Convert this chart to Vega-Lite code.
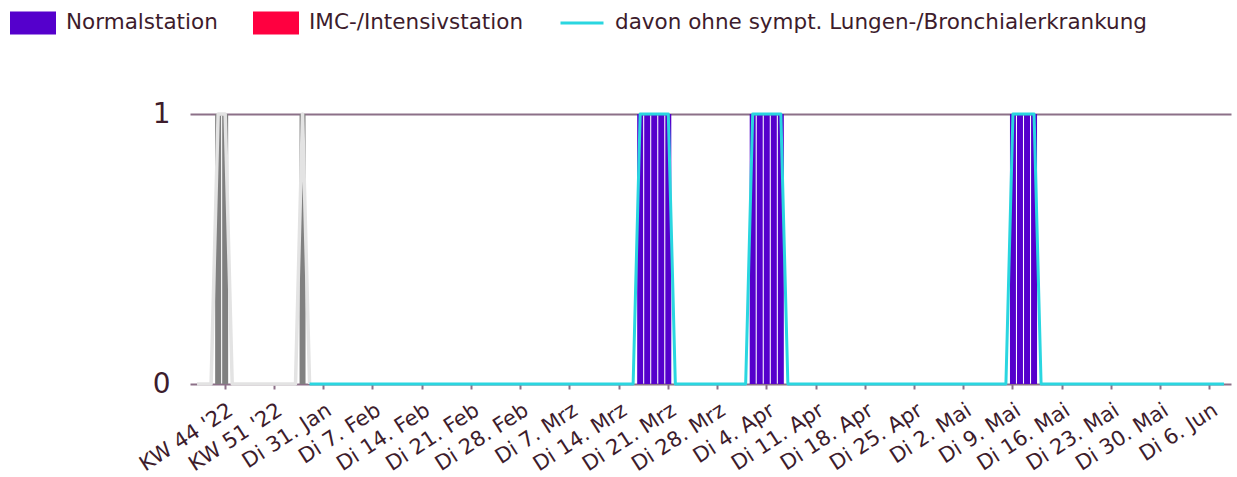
{
  "$schema": "https://vega.github.io/schema/vega-lite/v6.json",
  "autosize": {"type": "none"},
  "padding": {"left": 190, "top": 114, "right": 6, "bottom": 93},
  "width": 1041,
  "height": 270,
  "background": "white",
  "config": {
    "view": {"stroke": null},
    "font": "DejaVu Sans",
    "axis": {"labelFont": "DejaVu Sans", "labelColor": "#3d1c2c", "title": null},
    "legend": {"labelFont": "DejaVu Sans"}
  },
  "data": {
    "values": [
      {"t": "KW 40 '22", "nh": 0, "oh": 0, "i": 0},
      {"t": "KW 41 '22", "nh": 0, "oh": 0, "i": 0},
      {"t": "KW 42 '22", "nh": 0, "oh": 0, "i": 0},
      {"t": "KW 43 '22", "nh": 1, "oh": 1, "i": 0},
      {"t": "KW 44 '22", "nh": 1, "oh": 1, "i": 0},
      {"t": "KW 45 '22", "nh": 0, "oh": 0, "i": 0},
      {"t": "KW 46 '22", "nh": 0, "oh": 0, "i": 0},
      {"t": "KW 47 '22", "nh": 0, "oh": 0, "i": 0},
      {"t": "KW 48 '22", "nh": 0, "oh": 0, "i": 0},
      {"t": "KW 49 '22", "nh": 0, "oh": 0, "i": 0},
      {"t": "KW 50 '22", "nh": 0, "oh": 0, "i": 0},
      {"t": "KW 51 '22", "nh": 0, "oh": 0, "i": 0},
      {"t": "KW 52 '22", "nh": 0, "oh": 0, "i": 0},
      {"t": "KW 1 '23", "nh": 0, "oh": 0, "i": 0},
      {"t": "KW 2 '23", "nh": 0, "oh": 0, "i": 0},
      {"t": "KW 3 '23", "nh": 1, "oh": 1, "i": 0},
      {"t": "KW 4 '23", "nh": 0, "oh": 0, "i": 0, "o": 0},
      {"t": "Mo 30. Jan", "n": 0, "i": 0, "o": 0},
      {"t": "Di 31. Jan", "n": 0, "i": 0, "o": 0},
      {"t": "Mi 1. Feb", "n": 0, "i": 0, "o": 0},
      {"t": "Do 2. Feb", "n": 0, "i": 0, "o": 0},
      {"t": "Fr 3. Feb", "n": 0, "i": 0, "o": 0},
      {"t": "Sa 4. Feb", "n": 0, "i": 0, "o": 0},
      {"t": "So 5. Feb", "n": 0, "i": 0, "o": 0},
      {"t": "Mo 6. Feb", "n": 0, "i": 0, "o": 0},
      {"t": "Di 7. Feb", "n": 0, "i": 0, "o": 0},
      {"t": "Mi 8. Feb", "n": 0, "i": 0, "o": 0},
      {"t": "Do 9. Feb", "n": 0, "i": 0, "o": 0},
      {"t": "Fr 10. Feb", "n": 0, "i": 0, "o": 0},
      {"t": "Sa 11. Feb", "n": 0, "i": 0, "o": 0},
      {"t": "So 12. Feb", "n": 0, "i": 0, "o": 0},
      {"t": "Mo 13. Feb", "n": 0, "i": 0, "o": 0},
      {"t": "Di 14. Feb", "n": 0, "i": 0, "o": 0},
      {"t": "Mi 15. Feb", "n": 0, "i": 0, "o": 0},
      {"t": "Do 16. Feb", "n": 0, "i": 0, "o": 0},
      {"t": "Fr 17. Feb", "n": 0, "i": 0, "o": 0},
      {"t": "Sa 18. Feb", "n": 0, "i": 0, "o": 0},
      {"t": "So 19. Feb", "n": 0, "i": 0, "o": 0},
      {"t": "Mo 20. Feb", "n": 0, "i": 0, "o": 0},
      {"t": "Di 21. Feb", "n": 0, "i": 0, "o": 0},
      {"t": "Mi 22. Feb", "n": 0, "i": 0, "o": 0},
      {"t": "Do 23. Feb", "n": 0, "i": 0, "o": 0},
      {"t": "Fr 24. Feb", "n": 0, "i": 0, "o": 0},
      {"t": "Sa 25. Feb", "n": 0, "i": 0, "o": 0},
      {"t": "So 26. Feb", "n": 0, "i": 0, "o": 0},
      {"t": "Mo 27. Feb", "n": 0, "i": 0, "o": 0},
      {"t": "Di 28. Feb", "n": 0, "i": 0, "o": 0},
      {"t": "Mi 1. Mrz", "n": 0, "i": 0, "o": 0},
      {"t": "Do 2. Mrz", "n": 0, "i": 0, "o": 0},
      {"t": "Fr 3. Mrz", "n": 0, "i": 0, "o": 0},
      {"t": "Sa 4. Mrz", "n": 0, "i": 0, "o": 0},
      {"t": "So 5. Mrz", "n": 0, "i": 0, "o": 0},
      {"t": "Mo 6. Mrz", "n": 0, "i": 0, "o": 0},
      {"t": "Di 7. Mrz", "n": 0, "i": 0, "o": 0},
      {"t": "Mi 8. Mrz", "n": 0, "i": 0, "o": 0},
      {"t": "Do 9. Mrz", "n": 0, "i": 0, "o": 0},
      {"t": "Fr 10. Mrz", "n": 0, "i": 0, "o": 0},
      {"t": "Sa 11. Mrz", "n": 0, "i": 0, "o": 0},
      {"t": "So 12. Mrz", "n": 0, "i": 0, "o": 0},
      {"t": "Mo 13. Mrz", "n": 0, "i": 0, "o": 0},
      {"t": "Di 14. Mrz", "n": 0, "i": 0, "o": 0},
      {"t": "Mi 15. Mrz", "n": 0, "i": 0, "o": 0},
      {"t": "Do 16. Mrz", "n": 0, "i": 0, "o": 0},
      {"t": "Fr 17. Mrz", "n": 1, "i": 0, "o": 1},
      {"t": "Sa 18. Mrz", "n": 1, "i": 0, "o": 1},
      {"t": "So 19. Mrz", "n": 1, "i": 0, "o": 1},
      {"t": "Mo 20. Mrz", "n": 1, "i": 0, "o": 1},
      {"t": "Di 21. Mrz", "n": 1, "i": 0, "o": 1},
      {"t": "Mi 22. Mrz", "n": 0, "i": 0, "o": 0},
      {"t": "Do 23. Mrz", "n": 0, "i": 0, "o": 0},
      {"t": "Fr 24. Mrz", "n": 0, "i": 0, "o": 0},
      {"t": "Sa 25. Mrz", "n": 0, "i": 0, "o": 0},
      {"t": "So 26. Mrz", "n": 0, "i": 0, "o": 0},
      {"t": "Mo 27. Mrz", "n": 0, "i": 0, "o": 0},
      {"t": "Di 28. Mrz", "n": 0, "i": 0, "o": 0},
      {"t": "Mi 29. Mrz", "n": 0, "i": 0, "o": 0},
      {"t": "Do 30. Mrz", "n": 0, "i": 0, "o": 0},
      {"t": "Fr 31. Mrz", "n": 0, "i": 0, "o": 0},
      {"t": "Sa 1. Apr", "n": 0, "i": 0, "o": 0},
      {"t": "So 2. Apr", "n": 1, "i": 0, "o": 1},
      {"t": "Mo 3. Apr", "n": 1, "i": 0, "o": 1},
      {"t": "Di 4. Apr", "n": 1, "i": 0, "o": 1},
      {"t": "Mi 5. Apr", "n": 1, "i": 0, "o": 1},
      {"t": "Do 6. Apr", "n": 1, "i": 0, "o": 1},
      {"t": "Fr 7. Apr", "n": 0, "i": 0, "o": 0},
      {"t": "Sa 8. Apr", "n": 0, "i": 0, "o": 0},
      {"t": "So 9. Apr", "n": 0, "i": 0, "o": 0},
      {"t": "Mo 10. Apr", "n": 0, "i": 0, "o": 0},
      {"t": "Di 11. Apr", "n": 0, "i": 0, "o": 0},
      {"t": "Mi 12. Apr", "n": 0, "i": 0, "o": 0},
      {"t": "Do 13. Apr", "n": 0, "i": 0, "o": 0},
      {"t": "Fr 14. Apr", "n": 0, "i": 0, "o": 0},
      {"t": "Sa 15. Apr", "n": 0, "i": 0, "o": 0},
      {"t": "So 16. Apr", "n": 0, "i": 0, "o": 0},
      {"t": "Mo 17. Apr", "n": 0, "i": 0, "o": 0},
      {"t": "Di 18. Apr", "n": 0, "i": 0, "o": 0},
      {"t": "Mi 19. Apr", "n": 0, "i": 0, "o": 0},
      {"t": "Do 20. Apr", "n": 0, "i": 0, "o": 0},
      {"t": "Fr 21. Apr", "n": 0, "i": 0, "o": 0},
      {"t": "Sa 22. Apr", "n": 0, "i": 0, "o": 0},
      {"t": "So 23. Apr", "n": 0, "i": 0, "o": 0},
      {"t": "Mo 24. Apr", "n": 0, "i": 0, "o": 0},
      {"t": "Di 25. Apr", "n": 0, "i": 0, "o": 0},
      {"t": "Mi 26. Apr", "n": 0, "i": 0, "o": 0},
      {"t": "Do 27. Apr", "n": 0, "i": 0, "o": 0},
      {"t": "Fr 28. Apr", "n": 0, "i": 0, "o": 0},
      {"t": "Sa 29. Apr", "n": 0, "i": 0, "o": 0},
      {"t": "So 30. Apr", "n": 0, "i": 0, "o": 0},
      {"t": "Mo 1. Mai", "n": 0, "i": 0, "o": 0},
      {"t": "Di 2. Mai", "n": 0, "i": 0, "o": 0},
      {"t": "Mi 3. Mai", "n": 0, "i": 0, "o": 0},
      {"t": "Do 4. Mai", "n": 0, "i": 0, "o": 0},
      {"t": "Fr 5. Mai", "n": 0, "i": 0, "o": 0},
      {"t": "Sa 6. Mai", "n": 0, "i": 0, "o": 0},
      {"t": "So 7. Mai", "n": 0, "i": 0, "o": 0},
      {"t": "Mo 8. Mai", "n": 0, "i": 0, "o": 0},
      {"t": "Di 9. Mai", "n": 1, "i": 0, "o": 1},
      {"t": "Mi 10. Mai", "n": 1, "i": 0, "o": 1},
      {"t": "Do 11. Mai", "n": 1, "i": 0, "o": 1},
      {"t": "Fr 12. Mai", "n": 1, "i": 0, "o": 1},
      {"t": "Sa 13. Mai", "n": 0, "i": 0, "o": 0},
      {"t": "So 14. Mai", "n": 0, "i": 0, "o": 0},
      {"t": "Mo 15. Mai", "n": 0, "i": 0, "o": 0},
      {"t": "Di 16. Mai", "n": 0, "i": 0, "o": 0},
      {"t": "Mi 17. Mai", "n": 0, "i": 0, "o": 0},
      {"t": "Do 18. Mai", "n": 0, "i": 0, "o": 0},
      {"t": "Fr 19. Mai", "n": 0, "i": 0, "o": 0},
      {"t": "Sa 20. Mai", "n": 0, "i": 0, "o": 0},
      {"t": "So 21. Mai", "n": 0, "i": 0, "o": 0},
      {"t": "Mo 22. Mai", "n": 0, "i": 0, "o": 0},
      {"t": "Di 23. Mai", "n": 0, "i": 0, "o": 0},
      {"t": "Mi 24. Mai", "n": 0, "i": 0, "o": 0},
      {"t": "Do 25. Mai", "n": 0, "i": 0, "o": 0},
      {"t": "Fr 26. Mai", "n": 0, "i": 0, "o": 0},
      {"t": "Sa 27. Mai", "n": 0, "i": 0, "o": 0},
      {"t": "So 28. Mai", "n": 0, "i": 0, "o": 0},
      {"t": "Mo 29. Mai", "n": 0, "i": 0, "o": 0},
      {"t": "Di 30. Mai", "n": 0, "i": 0, "o": 0},
      {"t": "Mi 31. Mai", "n": 0, "i": 0, "o": 0},
      {"t": "Do 1. Jun", "n": 0, "i": 0, "o": 0},
      {"t": "Fr 2. Jun", "n": 0, "i": 0, "o": 0},
      {"t": "Sa 3. Jun", "n": 0, "i": 0, "o": 0},
      {"t": "So 4. Jun", "n": 0, "i": 0, "o": 0},
      {"t": "Mo 5. Jun", "n": 0, "i": 0, "o": 0},
      {"t": "Di 6. Jun", "n": 0, "i": 0, "o": 0},
      {"t": "Mi 7. Jun", "n": 0, "i": 0, "o": 0},
      {"t": "Do 8. Jun", "n": 0, "i": 0, "o": 0}
    ]
  },
  "encoding": {
    "x": {
      "field": "t",
      "type": "ordinal",
      "sort": null,
      "scale": {"type": "band", "paddingInner": 0.15, "paddingOuter": 0.575},
      "axis": {
        "values": ["KW 44 '22", "KW 51 '22", "Di 31. Jan", "Di 7. Feb", "Di 14. Feb", "Di 21. Feb", "Di 28. Feb", "Di 7. Mrz", "Di 14. Mrz", "Di 21. Mrz", "Di 28. Mrz", "Di 4. Apr", "Di 11. Apr", "Di 18. Apr", "Di 25. Apr", "Di 2. Mai", "Di 9. Mai", "Di 16. Mai", "Di 23. Mai", "Di 30. Mai", "Di 6. Jun"],
        "labelAngle": -33,
        "labelFontSize": 21,
        "labelOverlap": false,
        "labelPadding": 10,
        "domain": false,
        "grid": false,
        "ticks": true,
        "tickColor": "#8c7088",
        "tickSize": 5,
        "tickWidth": 2,
        "title": null
      }
    }
  },
  "layer": [
    {
      "mark": {"type": "bar"},
      "encoding": {
        "y": {
          "field": "i",
          "type": "quantitative",
          "scale": {"domain": [0, 1], "nice": false, "zero": true},
          "axis": {
            "values": [0, 1],
            "format": "d",
            "grid": true,
            "gridColor": "#8c7088",
            "gridWidth": 2,
            "gridOpacity": 1,
            "domain": false,
            "ticks": false,
            "labelFontSize": 28,
            "labelPadding": 20,
            "title": null
          }
        },
        "color": {
          "datum": "IMC-/Intensivstation",
          "type": "nominal",
          "scale": {
            "domain": ["Normalstation", "IMC-/Intensivstation", "davon ohne sympt. Lungen-/Bronchialerkrankung"],
            "range": ["#5500cc", "#ff0040", "#2ad6e0"]
          },
          "legend": {
            "title": null,
            "orient": "none",
            "legendX": -180,
            "legendY": -114,
            "direction": "horizontal",
            "columns": 3,
            "columnPadding": 30,
            "padding": 0,
            "symbolSize": 1849,
            "labelFontSize": 21.5,
            "labelColor": "#3d1c2c",
            "labelOffset": 10,
            "labelLimit": 1000,
            "encode": {
              "symbols": {
                "update": {
                  "shape": {"signal": "datum.value === 'davon ohne sympt. Lungen-/Bronchialerkrankung' ? 'M-1,-0.465M-1,0L1,0M1,0.465' : 'M-1,-0.465L1,-0.465L1,0.465L-1,0.465Z'"},
                  "fill": {"signal": "datum.value === 'Normalstation' ? '#5500cc' : datum.value === 'IMC-/Intensivstation' ? '#ff0040' : 'transparent'"},
                  "stroke": {"signal": "datum.value === 'davon ohne sympt. Lungen-/Bronchialerkrankung' ? '#2ad6e0' : 'transparent'"},
                  "strokeWidth": {"value": 3},
                  "opacity": {"value": 1}
                }
              }
            }
          }
        }
      }
    },
    {
      "mark": {"type": "bar", "color": "#808080"},
      "encoding": {
        "y": {"field": "nh", "type": "quantitative"}
      }
    },
    {
      "mark": {"type": "bar"},
      "encoding": {
        "y": {"field": "n", "type": "quantitative"},
        "color": {"datum": "Normalstation", "type": "nominal"}
      }
    },
    {
      "mark": {"type": "line", "color": "#e3e3e3", "strokeWidth": 3.5, "strokeJoin": "round"},
      "encoding": {
        "y": {"field": "oh", "type": "quantitative"}
      }
    },
    {
      "mark": {"type": "line", "strokeWidth": 3, "strokeJoin": "round"},
      "encoding": {
        "y": {"field": "o", "type": "quantitative"},
        "color": {"datum": "davon ohne sympt. Lungen-/Bronchialerkrankung", "type": "nominal"}
      }
    }
  ]
}
